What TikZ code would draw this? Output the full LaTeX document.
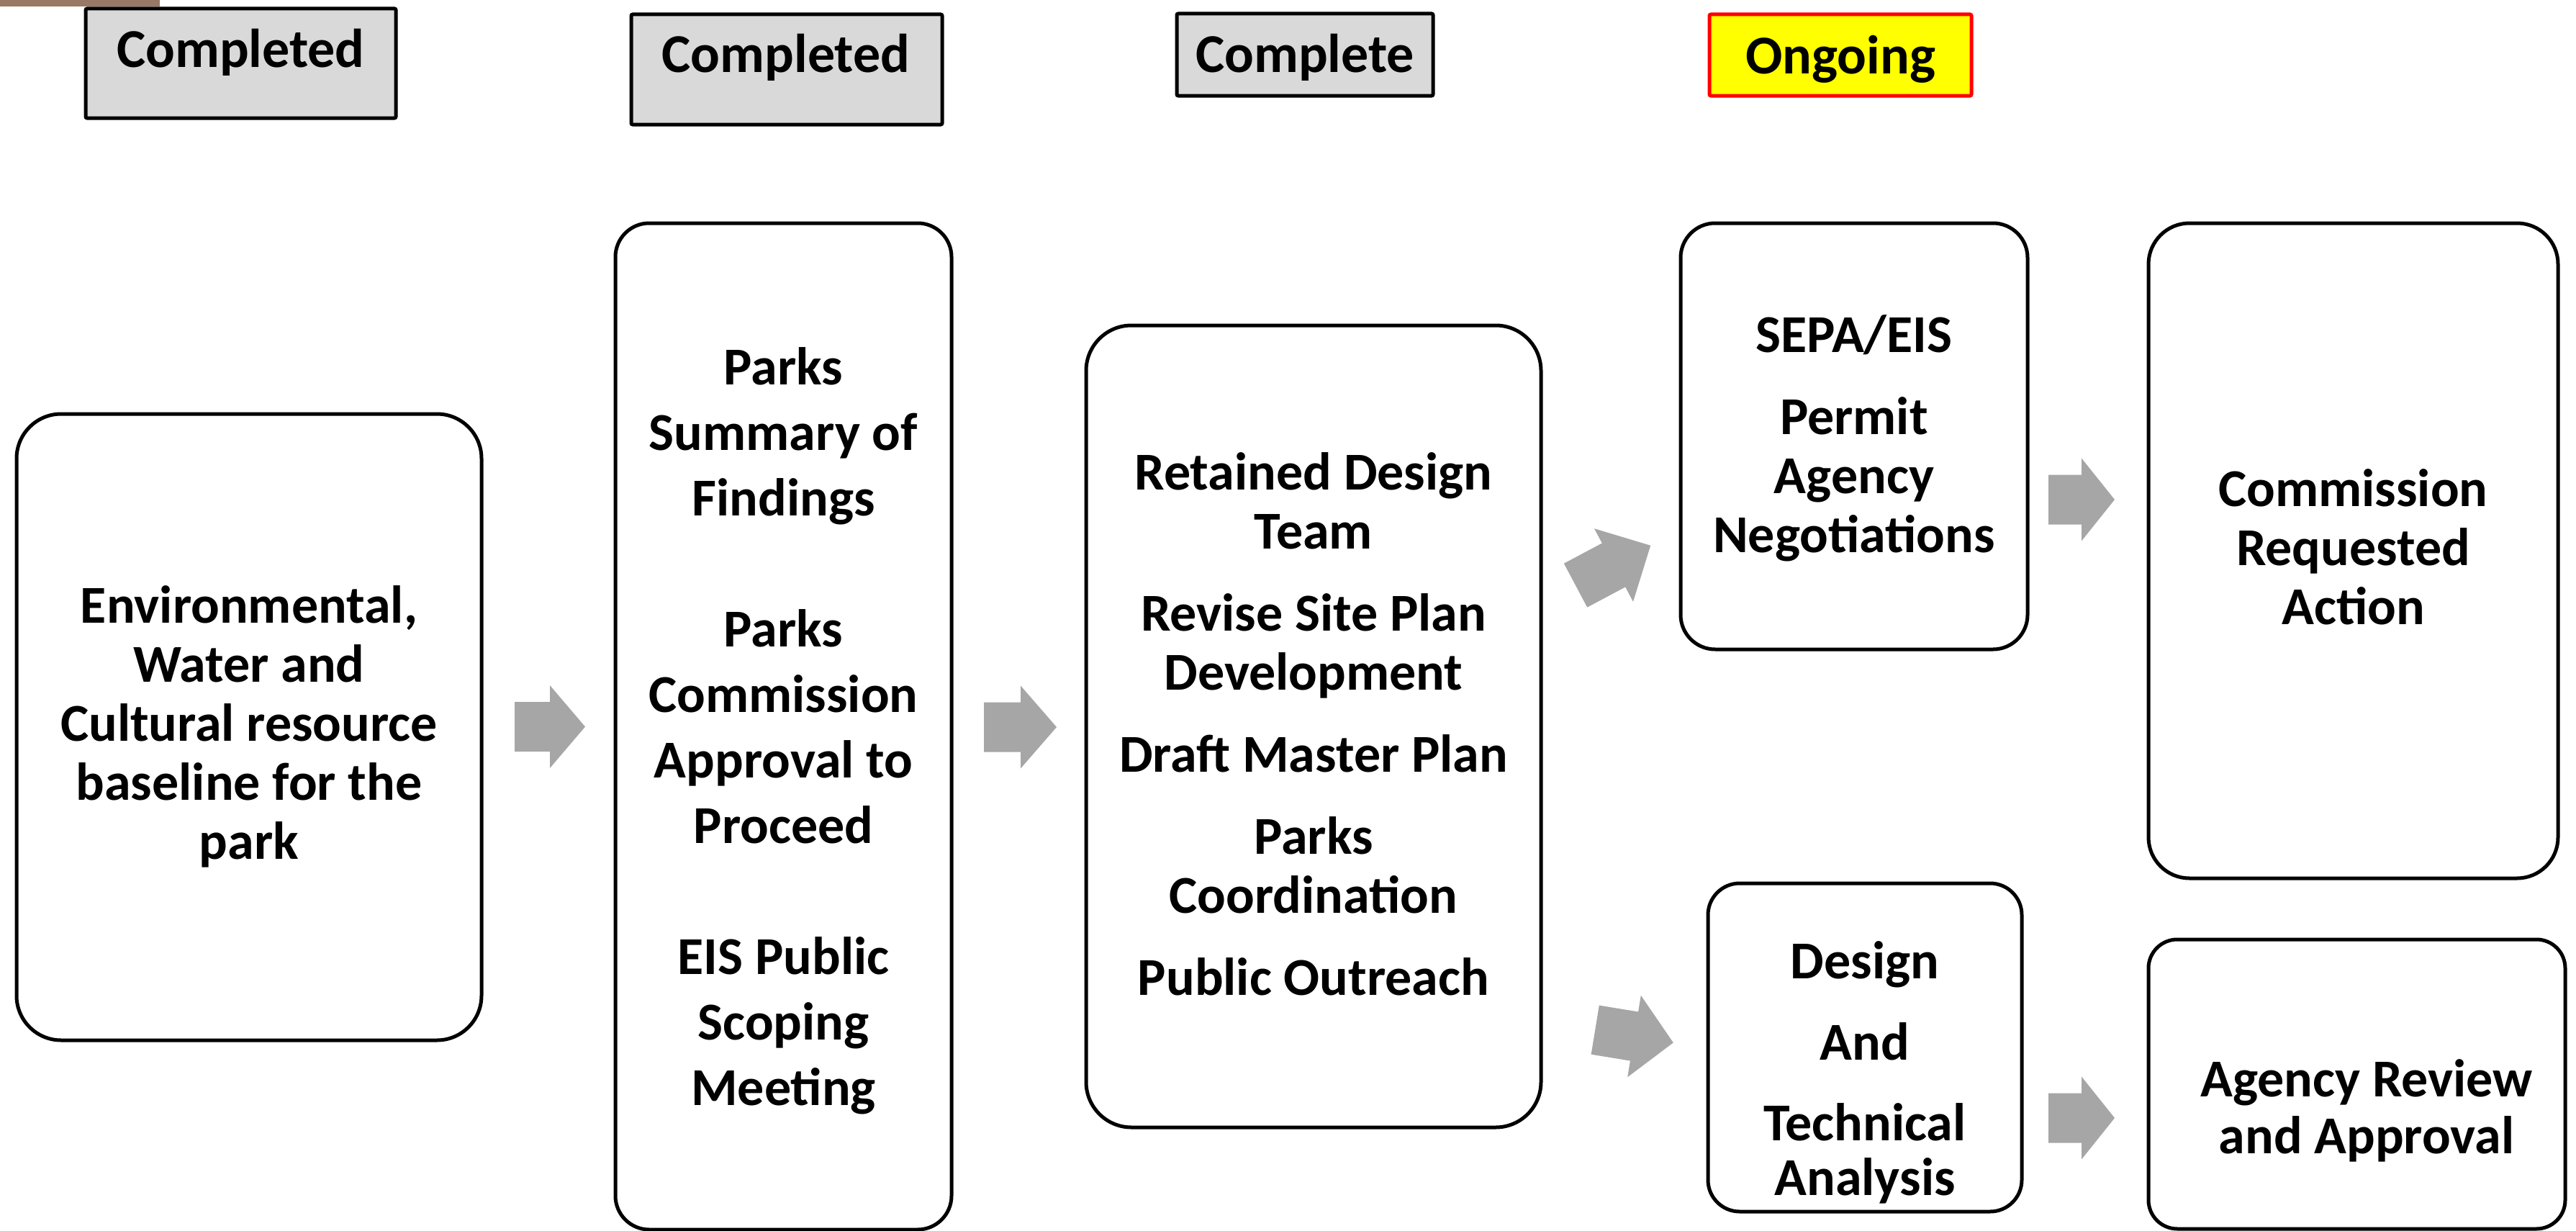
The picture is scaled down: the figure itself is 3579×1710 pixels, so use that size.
\documentclass[tikz,border=0pt]{standalone}
\usepackage{fontspec}
\setmainfont{Carlito}
\definecolor{labelgray}{RGB}{217,217,217}
\definecolor{arrowgray}{RGB}{166,166,166}
\definecolor{barbrown}{RGB}{152,121,101}
\definecolor{ongoingyellow}{RGB}{255,255,0}
\definecolor{ongoingred}{RGB}{255,0,0}

% block arrow: head-base centre (x,y), angle, shaft length, head length
\newcommand\blockarrow[5]{%
  \begin{scope}[shift={(#1,#2)}, rotate=#3]
    \fill[arrowgray] (-#4,-34.5) -- (0,-34.5) -- (0,-57.5) -- (#5,0)
      -- (0,57.5) -- (0,34.5) -- (-#4,34.5) -- cycle;
  \end{scope}}

\begin{document}
\begin{tikzpicture}[x=1pt, y=-1pt,
  stagebox/.style={draw=black, line width=5pt, fill=white, inner sep=0pt,
    outer sep=0pt},
  statusbox/.style={draw=black, line width=5pt, fill=labelgray, inner sep=0pt,
    outer sep=0pt, rounded corners=2pt},
  stagetext/.style={inner sep=0pt, anchor=base, font=\bfseries},
  statustext/.style={inner sep=0pt, anchor=base,
    font=\fontsize{76}{90}\selectfont\bfseries},
]
\useasboundingbox (0,0) rectangle (3579,1710);
\fill[barbrown] (0,0) rectangle (222,9);

% status labels
\node[statusbox, minimum width=431pt, minimum height=152pt] (s1) at (334.5,88) {};
\node[statusbox, minimum width=432pt, minimum height=153pt] (s2) at (1093,96.5) {};
\node[statusbox, minimum width=356pt, minimum height=114pt] (s3) at (1813,76) {};
\node[statusbox, draw=ongoingred, fill=ongoingyellow, minimum width=364pt,
  minimum height=113pt] (s4) at (2557,76.5) {};
\node[statustext] (s1t) at (334.5,93) {Completed};
\node[statustext] (s2t) at (1092,100) {Completed};
\node[statustext] (s3t) at (1813,100) {Complete};
\node[statustext] (s4t) at (2557,102) {Ongoing};

% stage boxes
\node[stagebox, rounded corners=62pt, minimum width=646pt, minimum height=870pt] (b1) at (346,1010) {};
\node[stagebox, rounded corners=47pt, minimum width=467pt, minimum height=1398pt] (b2) at (1088.5,1009) {};
\node[stagebox, rounded corners=63pt, minimum width=632pt, minimum height=1114pt] (b3) at (1825,1009) {};
\node[stagebox, rounded corners=48pt, minimum width=482pt, minimum height=592pt] (b4) at (2576,606) {};
\node[stagebox, rounded corners=57pt, minimum width=569pt, minimum height=910pt] (b5) at (3269.5,765) {};
\node[stagebox, rounded corners=44pt, minimum width=436pt, minimum height=456pt] (b6) at (2591,1455) {};
\node[stagebox, rounded corners=40pt, minimum width=579pt, minimum height=402pt] (b7) at (3274.5,1506) {};

% stage texts
\node[stagetext] (t1) at (346,865) {\fontsize{74}{82}\selectfont
  \begin{tabular}[t]{@{}c@{}}Environmental,\\ Water and\\ Cultural resource\\
  baseline for the\\ park\end{tabular}};
\node[stagetext] (t2) at (1088.5,534) {\fontsize{74}{91}\selectfont
  \begin{tabular}[t]{@{}c@{}}Parks\\ Summary of\\ Findings\\ \\ Parks\\ Commission\\
  Approval to\\ Proceed\\ \\ EIS Public\\ Scoping\\ Meeting\end{tabular}};
\node[stagetext] (t3) at (1825,680) {\fontsize{74}{82}\selectfont
  \begin{tabular}[t]{@{}c@{}}Retained Design\\ Team\\[32pt] Revise Site Plan\\
  Development\\[32pt] Draft Master Plan\\[32pt] Parks\\ Coordination\\[32pt]
  Public Outreach\end{tabular}};
\node[stagetext] (t4) at (2576,489) {\fontsize{74}{82}\selectfont
  \begin{tabular}[t]{@{}c@{}}SEPA/EIS\\[32pt] Permit\\ Agency\\ Negotiations\end{tabular}};
\node[stagetext] (t5) at (3269.5,703) {\fontsize{74}{82}\selectfont
  \begin{tabular}[t]{@{}c@{}}Commission\\ Requested\\ Action\end{tabular}};
\node[stagetext] (t6) at (2591,1359) {\fontsize{74}{76}\selectfont
  \begin{tabular}[t]{@{}c@{}}Design\\[37pt] And\\[36pt] Technical\\ Analysis\end{tabular}};
\node[stagetext] (t7) at (3288,1523) {\fontsize{74}{79}\selectfont
  \begin{tabular}[t]{@{}c@{}}Agency Review\\ and Approval\end{tabular}};

% flow arrows
\blockarrow{764}{1009.5}{0}{49}{49}
\blockarrow{1418}{1010}{0}{51}{50}
\blockarrow{2242}{785}{28}{60}{58}
\blockarrow{2270.5}{1439.5}{-9.3}{55}{55}
\blockarrow{2892}{694}{0}{46}{46}
\blockarrow{2892}{1553}{0}{46}{46}
\end{tikzpicture}
\end{document}
